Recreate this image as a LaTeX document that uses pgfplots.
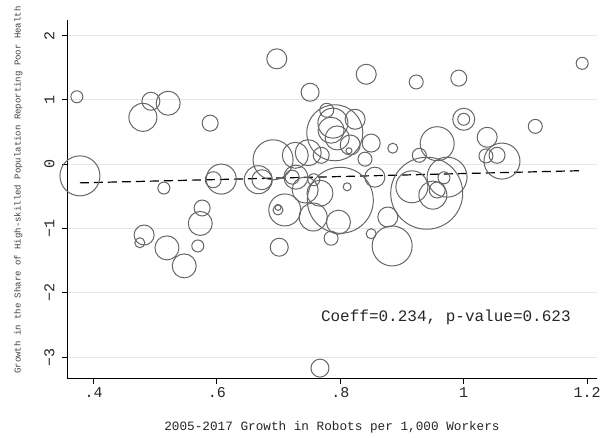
\documentclass[border=0pt]{standalone}
\usepackage{pgfplots}
\pgfplotsset{compat=1.18}
\usepackage{fontspec}
\setmainfont{Liberation Mono}
\definecolor{bub}{HTML}{666666}
\definecolor{gridc}{HTML}{E6E6E6}
\begin{document}
\begin{tikzpicture}[x=1pt,y=1pt]
\useasboundingbox (0,0) rectangle (600,438);
\begin{axis}[
  at={(67pt,59pt)}, anchor=south west,
  scale only axis, width=530pt, height=359pt,
  xmin=0.357, xmax=1.216, ymin=-3.339, ymax=2.244,
  axis x line*=bottom, axis y line*=left,
  axis line style={-, black, line width=1pt},
  tick align=outside, major tick length=5pt,
  tick style={black, line width=1pt},
  xtick={0.4,0.6,0.8,1,1.2}, xticklabels={.4,.6,.8,1,1.2},
  ytick={-3,-2,-1,0,1,2}, yticklabels={−3,−2,−1,0,1,2},
  yticklabel style={rotate=90, anchor=south},
  yticklabel shift=4pt,
  ymajorgrids, major grid style={gridc, line width=1pt},
  /pgf/number format/assume math mode=true,
  ticklabel style={font=\fontsize{15}{17}\selectfont, text=black!85},
  xlabel={2005-2017 Growth in Robots per 1,000 Workers},
  xlabel style={font=\fontsize{12.7}{14}\selectfont, text=black!85, at={(axis description cs:0.5,0)}, anchor=center, yshift=-48pt},
  ylabel={Growth in the Share of High-skilled Population Reporting Poor Health},
  ylabel style={font=\fontsize{9}{10}\selectfont, text=black!75, at={(axis description cs:-0.092,0.526)}, anchor=center},
  clip=false,
]
\addplot[scatter, only marks, mark=o,
  scatter/use mapped color={draw=bub},
  mark options={line width=1.0pt},
  visualization depends on={\thisrow{r}\as\rr},
  scatter/@pre marker code/.append style={/tikz/mark size=\rr}]
table {
x y r
0.373 1.05 6
0.378 -0.18 20
0.480 0.73 14
0.493 0.98 9
0.521 0.95 12
0.589 0.64 8
0.514 -0.37 6
0.594 -0.24 8
0.607 -0.23 15
0.576 -0.68 8
0.573 -0.92 12
0.482 -1.10 10
0.475 -1.22 5
0.519 -1.30 12
0.547 -1.58 12
0.569 -1.27 6
0.701 -1.29 9
0.697 1.64 10
0.751 1.12 9
0.842 1.40 10
0.923 1.28 7
0.992 1.34 8
1.192 1.57 6
1.000 0.70 11
1.000 0.70 6
1.116 0.59 7
1.038 0.42 10
0.957 0.32 17
0.885 0.25 5
0.850 0.33 9
0.824 0.70 10
0.778 0.84 7
0.788 0.64 15
0.791 0.49 28
0.785 0.53 13
0.795 0.41 12
0.816 0.30 10
0.814 0.21 3
0.840 0.08 7
0.769 0.14 8
0.748 0.18 13
0.727 0.14 13
0.691 0.07 20
0.667 -0.24 14
0.673 -0.24 10
0.728 -0.20 12
0.722 -0.20 7
0.757 -0.24 6
0.928 0.14 7
1.036 0.13 7
1.054 0.14 8
1.062 0.05 18
0.856 -0.20 10
0.973 -0.20 20
0.968 -0.21 6
0.940 -0.45 36
0.916 -0.35 16
0.950 -0.48 14
0.957 -0.40 8
0.877 -0.82 10
0.884 -1.27 20
0.850 -1.08 5
0.800 -0.56 33
0.797 -0.90 12
0.785 -1.15 7
0.811 -0.35 4
0.767 -0.45 13
0.710 -0.71 16
0.699 -0.71 5
0.699 -0.67 3
0.756 -0.82 14
0.767 -3.17 9
0.743 -0.40 13
};
\addplot[black, line width=1.2pt, dash pattern=on 9pt off 5pt] coordinates {(0.378,-0.289) (1.192,-0.099)};
\node[font=\fontsize{16}{18}\selectfont, text=black!85] at (axis cs:0.971,-2.375) {Coeff=0.234, p-value=0.623};
\end{axis}
\end{tikzpicture}
\end{document}
